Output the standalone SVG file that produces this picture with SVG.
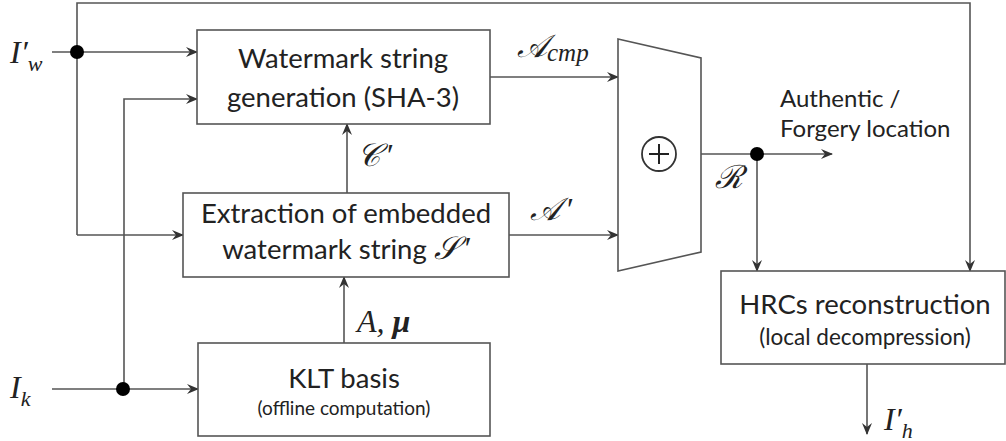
<svg xmlns="http://www.w3.org/2000/svg" width="1006" height="441" viewBox="0 0 1006 441">
  <style>
    .box { fill: #fff; stroke: #555; stroke-width: 1.6; }
    .wire { fill: none; stroke: #555; stroke-width: 1.6; }
    .lbl { font-family: Lato, "Open Sans", "Liberation Sans", sans-serif; fill: #222; }
    .big { font-size: 27.5px; }
    .math { font-family: "Liberation Serif", "DejaVu Serif", serif; font-style: italic; fill: #222; font-size: 32px; }
    .dot { fill: #000; }
  </style>
  <defs>
    <marker id="arr" viewBox="0 0 12 10" refX="11" refY="5" markerWidth="12" markerHeight="10" markerUnits="userSpaceOnUse" orient="auto">
      <path d="M0,0 L12,5 L0,10 L4,5 Z" fill="#333"/>
    </marker>
  </defs>
  <rect width="1006" height="441" fill="#fff"/>

  <g id="connectors">
    <!-- I'_w input and its branches -->
    <path class="wire" d="M52,52 H197" marker-end="url(#arr)"/>
    <path class="wire" d="M77,235 V3 H970 V271" marker-end="url(#arr)"/>
    <path class="wire" d="M77,235 H183" marker-end="url(#arr)"/>
    <!-- I_k input and its branch -->
    <path class="wire" d="M52,389 H198" marker-end="url(#arr)"/>
    <path class="wire" d="M124,389 V99 H197" marker-end="url(#arr)"/>
    <!-- internal flows -->
    <path class="wire" d="M347,193 V124" marker-end="url(#arr)"/>
    <path class="wire" d="M344,343 V277" marker-end="url(#arr)"/>
    <path class="wire" d="M490,77 H618" marker-end="url(#arr)"/>
    <path class="wire" d="M509,235 H618" marker-end="url(#arr)"/>
    <path class="wire" d="M701,154 H832" marker-end="url(#arr)"/>
    <path class="wire" d="M757,154 V271" marker-end="url(#arr)"/>
    <path class="wire" d="M867,364 V434" marker-end="url(#arr)"/>
    <circle class="dot" cx="77" cy="52" r="7"/>
    <circle class="dot" cx="123" cy="389" r="7"/>
    <circle class="dot" cx="757" cy="154" r="7"/>
  </g>

  <g id="watermark-gen">
    <rect class="box" x="197" y="30" width="293" height="94"/>
    <text class="lbl big" x="343" y="68" text-anchor="middle">Watermark string</text>
    <text class="lbl big" x="343" y="107" text-anchor="middle">generation (SHA-3)</text>
  </g>

  <g id="extraction">
    <rect class="box" x="183" y="193" width="326" height="84"/>
    <text class="lbl big" x="346" y="223" text-anchor="middle">Extraction of embedded</text>
    <text class="lbl big" x="346" y="259" text-anchor="middle">watermark string <tspan class="math" font-size="27">𝒮<tspan dx="4">′</tspan></tspan></text>
  </g>

  <g id="klt">
    <rect class="box" x="198" y="343" width="292" height="93"/>
    <text class="lbl big" x="344" y="388" text-anchor="middle">KLT basis</text>
    <text class="lbl" font-size="19" x="344" y="415" text-anchor="middle">(offline computation)</text>
  </g>

  <g id="combiner">
    <path class="box" d="M618,39 L701,58 L701,252 L618,271 Z"/>
    <circle cx="659" cy="154" r="17" fill="#fff" stroke="#333" stroke-width="1.8"/>
    <path d="M649,154 H669 M659,144 V164" fill="none" stroke="#222" stroke-width="2"/>
  </g>

  <g id="hrc">
    <rect class="box" x="721" y="271" width="284" height="93"/>
    <text class="lbl big" x="865" y="314" text-anchor="middle">HRCs reconstruction</text>
    <text class="lbl" font-size="22.5" x="865" y="345" text-anchor="middle">(local decompression)</text>
  </g>

  <g id="labels">
    <text class="math" x="10" y="63">I′<tspan font-size="22" dy="8">w</tspan></text>
    <text class="math" x="10" y="398">I<tspan font-size="22" dy="8">k</tspan></text>
    <text class="math" x="517" y="57">𝒜<tspan font-size="25" dy="4">cmp</tspan></text>
    <text class="math" x="530" y="220">𝒜<tspan dx="5">′</tspan></text>
    <text class="math" x="357" y="166">𝒞<tspan dx="5">′</tspan></text>
    <text class="math" x="357" y="332">A, <tspan font-weight="bold">μ</tspan></text>
    <text class="math" x="715" y="188">ℛ</text>
    <text class="math" x="884" y="430">I′<tspan font-size="22" dy="8">h</tspan></text>
    <text class="lbl" font-size="24" x="780" y="107">Authentic /</text>
    <text class="lbl" font-size="24" x="780" y="137">Forgery location</text>
  </g>
</svg>
